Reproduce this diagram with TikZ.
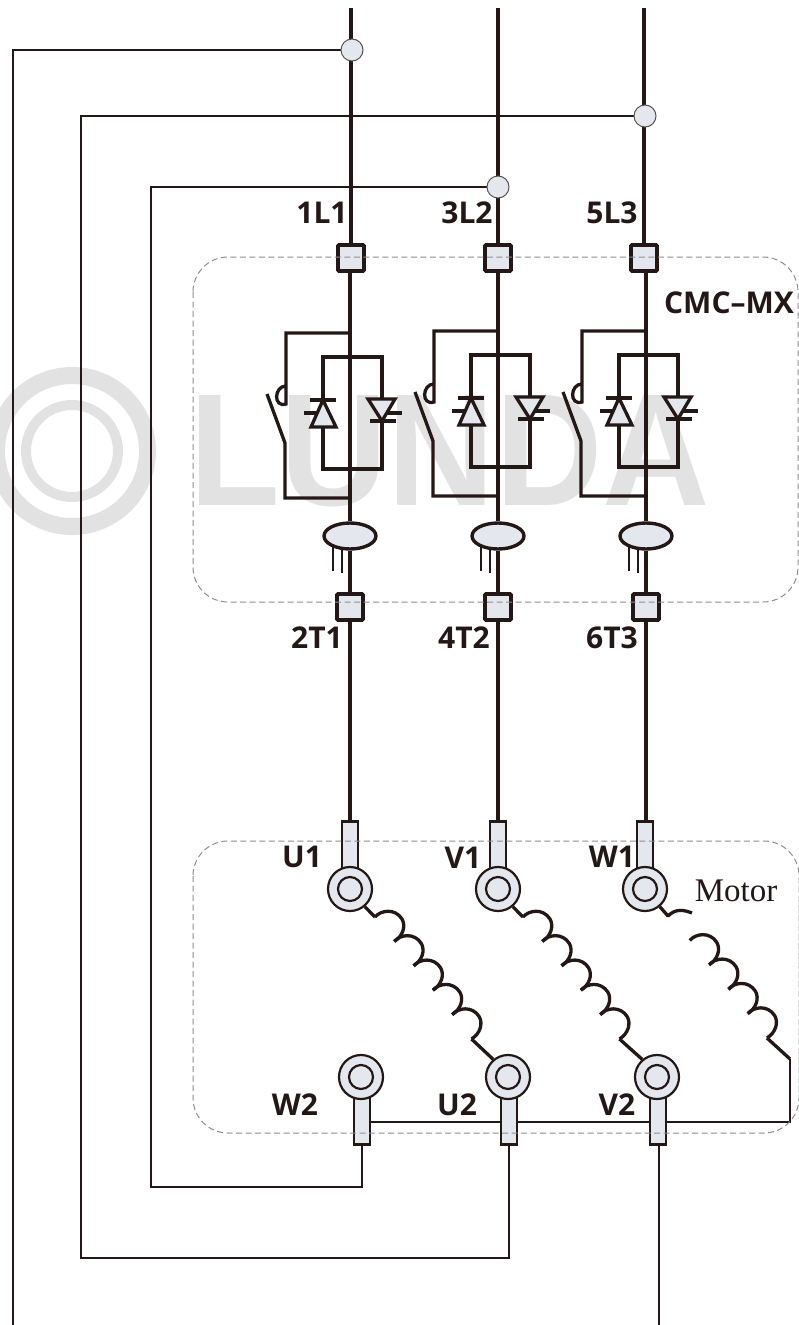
\documentclass[tikz,border=0pt]{standalone}
\usepackage{tikz}
\usepackage{xcolor}
\usepackage{fontspec}
\setmainfont{Open Sans}
\newfontfamily\motorfont{Liberation Serif}
\newfontfamily\logofont{Liberation Sans}
\usetikzlibrary{shapes.geometric, backgrounds}
\definecolor{inkdark}{HTML}{231815}
\definecolor{partfill}{HTML}{E4E8EE}
\definecolor{markgray}{HTML}{E2E2E2}
\definecolor{boxgray}{HTML}{8E8E8E}
\tikzset{
    wire/.style={draw=inkdark, line width=3.8pt, line join=miter},
    midwire/.style={draw=inkdark, line width=3.3pt, line join=miter},
    thinwire/.style={draw=inkdark, line width=2.8pt, line join=miter},
    coilwire/.style={draw=inkdark, line width=3.3pt, line join=round},
    hubdot/.style={circle, draw=inkdark!75, fill=partfill, line width=1pt, minimum size=22pt, inner sep=0pt},
    terminal/.style={rectangle, rounded corners=1pt, draw=inkdark, fill=partfill, line width=3.8pt, minimum size=26pt, inner sep=0pt},
    sensor/.style={ellipse, draw=inkdark, fill=partfill, line width=3.4pt, minimum width=52pt, minimum height=26pt, inner sep=0pt},
    lug/.style={rectangle, draw=inkdark, fill=partfill, line width=2.2pt, minimum width=15.5pt, minimum height=47pt, inner sep=0pt},
    ringout/.style={circle, draw=inkdark, fill=partfill, line width=2.2pt, minimum size=44pt, inner sep=0pt},
    ringin/.style={circle, draw=inkdark, fill=partfill, line width=2.2pt, minimum size=24pt, inner sep=0pt},
    termlabel/.style={text=inkdark, font=\fontsize{30}{30}\selectfont\bfseries, inner sep=0pt},
    modulebox/.style={draw=boxgray, line width=1pt, dash pattern=on 6pt off 3.5pt, rounded corners=35pt},
    coilturn/.pic={
        \draw[coilwire] (0,0) .. controls (6,-7) and (20,-9) .. (27,2)
            .. controls (31,9) and (28,19) .. (19.3,24.4);
    },
    scrup/.pic={
        \draw[midwire, fill=partfill] (0,-13) -- (-12,14) -- (13,14) -- cycle;
        \draw[midwire] (-13,-13) -- (13,-13);
        \draw[midwire] (-19,0) -- (-6,0);
    },
    scrdown/.pic={
        \draw[midwire, fill=partfill] (-14,-14) -- (13,-14) -- (0,8) -- cycle;
        \draw[midwire] (-12,8) -- (14,8);
        \draw[midwire] (5,0) -- (20,0);
    }
}

\begin{document}
\begin{tikzpicture}[x=1pt, y=-1pt]
    \useasboundingbox (0,0) rectangle (799,1325);

    % Tap points on the supply lines
    \node[hubdot] (hubA) at (352,50) {};
    \node[hubdot] (hubB) at (645,116) {};
    \node[hubdot] (hubC) at (498,187) {};

    % Terminals of the soft starter
    \foreach \p/\xt/\xb in {1/351/350, 2/498/498, 3/644/646} {
        \node[terminal] (tt\p) at (\xt,258) {};
        \node[terminal] (bt\p) at (\xb,607) {};
    }

    % Current sensors and thyristor pairs
    \foreach \p/\x/\d in {1/350/0, 2/498/-2, 3/646/-2} {
        \node[sensor] (ell\p) at (\x,536) {};
        \pic at ({\x-27},{413+\d}) {scrup};
        \pic at ({\x+32},{413+\d}) {scrdown};
    }

    % Motor terminals, upper row
    \foreach \n/\x in {U1/350, V1/498, W1/645} {
        \node[lug] (lug\n) at (\x,845) {};
        \node[ringout] (ring\n) at (\x,889) {};
        \node[ringin] (in\n) at (\x,889) {};
    }

    % Motor terminals, lower row
    \foreach \n/\x in {W2/361, U2/508, V2/657} {
        \node[lug] (lug\n) at ({\x+1},1121) {};
        \node[ringout] (ring\n) at (\x,1077) {};
        \node[ringin] (in\n) at (\x,1077) {};
    }

    % Free ends and corners
    \coordinate (top1) at (351,8);
    \coordinate (top2) at (498,8);
    \coordinate (top3) at (644,8);
    \coordinate (cornerA) at (13,1325);
    \coordinate (cornerB) at (81,1258);
    \coordinate (cornerC) at (151,1187);
    \coordinate (endV) at (659,1325);
    \coordinate (busE) at (790,1122);
    \coordinate (coilE) at (790,1059);

    \begin{scope}[on background layer]
        % Watermark
        \draw[markgray, line width=17pt] (72,451) circle (75.5);
        \draw[markgray, line width=10pt] (72,451) circle (46);
        \node[text=markgray, font=\fontsize{160}{160}\selectfont\logofont\bfseries, xscale=.93, transform shape, inner sep=0pt] (logo) at (450,451) {LUNDA};

        % Supply lines and the delta loops
        \foreach \p in {1,2,3} {
            \draw[wire] (top\p) -- (tt\p.north);
        }
        \draw[thinwire] (hubA.west) -| (cornerA);
        \draw[thinwire] (hubB.west) -| (cornerB) -| (lugU2.south);
        \draw[thinwire] (hubC.west) -| (cornerC) -| (lugW2.south);
        \draw[thinwire] (lugV2.south -| endV) -- (endV);

        % One branch per phase
        \foreach \p/\x/\d in {1/350/0, 2/498/-2, 3/646/-2} {
            \draw[midwire] (tt\p.south -| ell\p) -- (ell\p.north);
            \draw[midwire] (\x,{333+\d}) -- ({\x-64},{333+\d}) -- ({\x-64},{404+\d})
                .. controls ({\x-77},{408+\d}) and ({\x-76},{386+\d}) .. ({\x-64},{386+\d});
            \draw[midwire] ({\x-83},{394+\d}) -- ({\x-65},{443+\d}) -- ({\x-65},{498+\d}) -- (\x,{498+\d});
            \draw[midwire] ({\x-27},{357+\d}) rectangle ({\x+32},{469+\d});
            \draw[midwire] (ell\p.south) -- (bt\p.north);
            \draw[midwire] (bt\p.south) -- (\x,822);
            \draw[draw=inkdark, line width=2pt] ({\x-17},547) -- ({\x-17},571);
            \draw[draw=inkdark, line width=2pt] ({\x-8},548) -- ({\x-8},573);
        }

        % Star bar of the motor
        \draw[thinwire] (coilE) -- (busE) -- (busE -| lugW2);
    \end{scope}

    % Windings
    \foreach \i in {0,...,4} {
        \pic at ({375+19.3*\i},{917+24.4*\i}) {coilturn};
        \pic at ({523+19.3*\i},{917+24.4*\i}) {coilturn};
    }
    \foreach \i in {0,...,3} {
        \pic at ({689.8+19.3*\i},{940.4+24.4*\i}) {coilturn};
    }
    \coordinate (endU) at (471.5,1039);
    \coordinate (endV2) at (619.5,1039);
    \coordinate (endW) at (767,1038);
    \draw[coilwire] (ringU1.-50) -- (375,917);
    \draw[coilwire] (ringV1.-50) -- (523,917);
    \draw[coilwire] (ringW1.-50) -- (668,916) .. controls (676,908) and (684,910) .. (692,913);
    \draw[coilwire] (endU) -- (ringU2.130);
    \draw[coilwire] (endV2) -- (ringV2.130);
    \draw[coilwire] (endW) -- (coilE);

    % Dashed outlines
    \draw[modulebox] (193,257) rectangle (798,602);
    \draw[modulebox] (193,841) rectangle (799,1133);

    % Labels
    \foreach \n/\x/\y in {1L1/322/213, 3L2/467/213, 5L3/612/213, 2T1/317/638, 4T2/464/638, 6T3/612/638, U1/302/857, V1/463/858, W1/612/857, W2/295/1105, U2/457/1105, V2/617/1105} {
        \node[termlabel] (lab\n) at (\x,\y) {\n};
    }
    \node[termlabel] (labCMC) at (729,303) {CMC–MX};
    \node[text=inkdark, font=\fontsize{33}{33}\selectfont\motorfont, inner sep=0pt] (labMotor) at (736,891) {Motor};
\end{tikzpicture}
\end{document}
